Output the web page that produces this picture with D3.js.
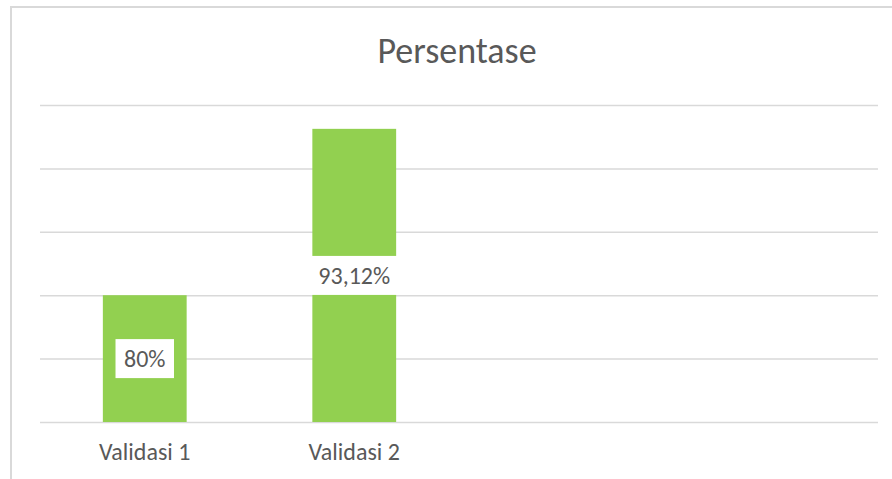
<!DOCTYPE html>
<html>
<head>
<meta charset="utf-8">
<script src="https://cdn.jsdelivr.net/npm/d3@7"></script>
<style>
  html, body { margin: 0; padding: 0; background: #fff; }
  svg { display: block; }
  text { font-family: Carlito, Calibri, "Liberation Sans", Arial, sans-serif; fill: #595959; }
</style>
</head>
<body>
<svg id="chart" width="892" height="479"></svg>
<script>
const title = "Persentase";
const categories = ["Validasi 1", "Validasi 2", "", ""];
const values = [80, 93.12, null, null];
const valueLabels = ["80%", "93,12%", "", ""];
const yTicks = [70, 75, 80, 85, 90, 95];
const yDomain = [70, 95];

const svg = d3.select("#chart");
const W = 892, H = 479;
const plot = { left: 40, right: 878, top: 105, bottom: 422 };

// chart frame
svg.append("rect")
  .attr("x", 11).attr("y", 7)
  .attr("width", W + 20).attr("height", H + 20)
  .attr("fill", "#fff").attr("stroke", "#d9d9d9").attr("stroke-width", 2);

// title
svg.append("text")
  .attr("x", 457).attr("y", 63)
  .attr("text-anchor", "middle")
  .attr("font-size", 36)
  .text(title);

const x = d3.scaleBand()
  .domain(d3.range(categories.length))
  .range([plot.left, plot.right])
  .paddingInner(0.6).paddingOuter(0.3);

const y = d3.scaleLinear().domain(yDomain).range([plot.bottom, plot.top]);

// gridlines
const grid = svg.append("g")
  .attr("transform", `translate(${plot.left},0)`)
  .call(d3.axisLeft(y).tickValues(yTicks).tickSize(-(plot.right - plot.left)).tickFormat(""));
grid.select(".domain").remove();
grid.selectAll(".tick line").attr("stroke", "#d9d9d9").attr("stroke-width", 1.5);

// bars
const data = categories.map((c, i) => ({ i, c, v: values[i], label: valueLabels[i] }))
  .filter(d => d.v != null);

svg.append("g").selectAll("rect")
  .data(data).join("rect")
  .attr("x", d => x(d.i))
  .attr("width", x.bandwidth())
  .attr("y", d => y(d.v))
  .attr("height", d => y(yDomain[0]) - y(d.v))
  .attr("fill", "#92d050");

// x axis labels
const xa = svg.append("g")
  .attr("transform", `translate(0,${plot.bottom})`)
  .call(d3.axisBottom(x).tickSize(0).tickPadding(21).tickFormat(i => categories[i]));
xa.select(".domain").remove();
xa.selectAll("text")
  .attr("font-size", 24)
  .attr("fill", "#595959")
  .style("font-family", 'Carlito, Calibri, "Liberation Sans", Arial, sans-serif');

// data labels with white boxes
const lg = svg.append("g").selectAll("g")
  .data(data).join("g")
  .attr("transform", d => `translate(${x(d.i) + x.bandwidth() / 2},${(y(d.v) + y(yDomain[0])) / 2})`);

lg.each(function(d) {
  const g = d3.select(this);
  const t = g.append("text")
    .attr("text-anchor", "middle")
    .attr("dy", "0.35em")
    .attr("font-size", 24)
    .text(d.label);
  const bb = t.node().getBBox();
  g.insert("rect", "text")
    .attr("x", bb.x - 8.5).attr("y", -19.5)
    .attr("width", bb.width + 17).attr("height", 39)
    .attr("fill", "#fff");
});
</script>
</body>
</html>
